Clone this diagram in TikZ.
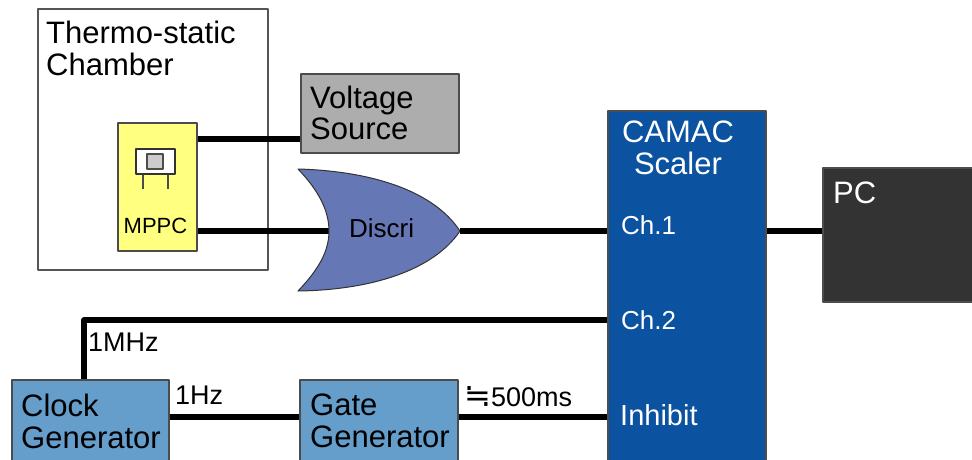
\documentclass[tikz,border=0pt]{standalone}
\usepackage{fontspec}
\setmainfont{Liberation Sans}
\newfontfamily\symfont{DejaVu Sans}
\newcommand{\fsize}[1]{\fontsize{#1}{31.5}\selectfont}
\definecolor{chambergray}{HTML}{555555}
\definecolor{mppcyellow}{HTML}{FFFF80}
\definecolor{sourcegray}{HTML}{ADADAD}
\definecolor{discriblue}{HTML}{6577B5}
\definecolor{scalerblue}{HTML}{0B52A0}
\definecolor{genblue}{HTML}{659DCB}
\definecolor{pcgray}{HTML}{333333}
\tikzset{
	box/.style={draw=black!70, line width=1.5pt, inner sep=0pt},
	wire/.style={line width=5.5pt, line cap=butt},
	lbl/.style={anchor=north west, inner sep=0pt, align=left, font=\fsize{31}},
	lblw/.style={lbl, text=white}
}
\begin{document}
\begin{tikzpicture}[x=1pt, y=-1pt, line join=round]
	\clip (0,0) rectangle (972,459);
	% boxes
	\node[box, draw=chambergray, fill=white, minimum width=230pt, minimum height=261pt] (chamber) at (153,139.5) {};
	\node[box, fill=mppcyellow, minimum width=79pt, minimum height=128pt] (mppc) at (157.5,187) {};
	\node[box, fill=sourcegray, minimum width=158pt, minimum height=79pt] (source) at (380,113.5) {};
	\node[box, fill=scalerblue, minimum width=158pt, minimum height=380pt] (scaler) at (687,301) {};
	\node[box, fill=pcgray, minimum width=170pt, minimum height=134pt] (pc) at (908,235) {};
	\node[box, fill=genblue, minimum width=157pt, minimum height=110pt] (clock) at (90.5,435) {};
	\node[box, fill=genblue, minimum width=158pt, minimum height=110pt] (gate) at (379,435) {};
	% discriminator
	\coordinate (discriin) at (329,231);
	\coordinate (discriout) at (460,231);
	\draw[wire] (mppc.east |- discriin) -- (discriin);
	\draw[wire] (mppc.east |- 0,139) -- (source.west |- 0,139);
	\draw[black!80, line width=1pt, fill=discriblue] (298,169) .. controls (370,171) and (433,190) .. (discriout) .. controls (433,271) and (370,290) .. (298,291) .. controls (320,268) and (329,250) .. (discriin) .. controls (329,212) and (320,192) .. cycle;
	% wires
	\draw[wire] (discriout) -- (scaler.west |- discriout);
	\draw[wire] (scaler.east |- discriout) -- (pc.west |- discriout);
	\draw[wire] (clock.north -| 84,0) -- (84,320) -- (scaler.west |- 0,320);
	\draw[wire] (clock.east |- 0,417) -- (gate.west |- 0,417);
	\draw[wire] (gate.east |- 0,417) -- (scaler.west |- 0,417);
	% sensor
	\node[draw=black!80, line width=2pt, fill=white, minimum width=39pt, minimum height=25pt] (pkg) at (155.5,161.5) {};
	\node[draw=black!70, line width=1.5pt, fill=black!20, minimum width=16pt, minimum height=15pt] (chip) at (155,161.5) {};
	\draw[black!70, line width=1.5pt] (pkg.south -| 143,0) -- (143,189);
	\draw[black!70, line width=1.5pt] (pkg.south -| 168,0) -- (168,189);
	% labels
	\node[lbl] (chamberlbl) at (46,21) {Thermo-static\\Chamber};
	\node[lbl] (sourcelbl) at (310,85.5) {Voltage\\Source};
	\node[lbl, font=\fsize{22}] (mppclbl) at (123.5,218) {MPPC};
	\node[lbl, font=\fsize{26}] (discrilbl) at (349,218) {Discri};
	\node[lblw, align=center, anchor=north] (scalerlbl) at (678,121) {CAMAC\\Scaler};
	\node[lblw, font=\fsize{26}] (chone) at (621,215) {Ch.1};
	\node[lblw, font=\fsize{26}] (chtwo) at (621,310) {Ch.2};
	\node[lblw, font=\fsize{29}] (inhibit) at (620,404) {Inhibit};
	\node[lblw] (pclbl) at (833,182) {PC};
	\node[lbl] (clocklbl) at (21,394) {Clock\\Generator};
	\node[lbl] (gatelbl) at (310,394) {Gate\\Generator};
	\node[lbl, font=\fsize{27}] (mhz) at (88,333) {1MHz};
	\node[lbl, font=\fsize{27}] (hz) at (175,386) {1Hz};
	\node[lbl, font=\fsize{27}] (width) at (464,386) {{\symfont\fsize{32}≒}500ms};
\end{tikzpicture}
\end{document}
